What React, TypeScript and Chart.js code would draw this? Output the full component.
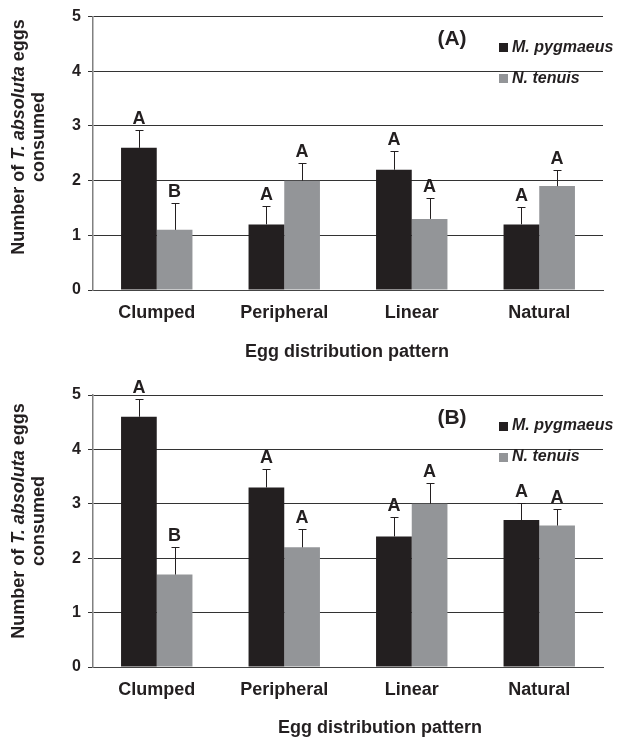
import React, { useEffect, useRef } from "react";
import { Chart, registerables } from "chart.js";

Chart.register(...registerables);

const categories = ["Clumped", "Peripheral", "Linear", "Natural"];
const seriesNames = ["M. pygmaeus", "N. tenuis"];
const yTickValues = [0, 1, 2, 3, 4, 5];

// Panel A
const aPygmaeus = [2.6, 1.2, 2.2, 1.2];
const aPygmaeusErr = [0.33, 0.34, 0.35, 0.32];
const aPygmaeusLetters = ["A", "A", "A", "A"];
const aTenuis = [1.1, 2.0, 1.3, 1.9];
const aTenuisErr = [0.5, 0.33, 0.38, 0.3];
const aTenuisLetters = ["B", "A", "A", "A"];

// Panel B
const bPygmaeus = [4.6, 3.3, 2.4, 2.7];
const bPygmaeusErr = [0.33, 0.34, 0.35, 0.32];
const bPygmaeusLetters = ["A", "A", "A", "A"];
const bTenuis = [1.7, 2.2, 3.0, 2.6];
const bTenuisErr = [0.5, 0.33, 0.38, 0.3];
const bTenuisLetters = ["B", "A", "A", "A"];

const BLACK = "#231f20";
const GREY = "#939598";
const FONT = "'Liberation Sans', Arial, sans-serif";

type PanelProps = {
  label: string;
  pyg: number[];
  pygErr: number[];
  pygLetters: string[];
  ten: number[];
  tenErr: number[];
  tenLetters: string[];
  padTop: number;
  xHeight: number;
  yTitleCenter: number;
  xTitleX: number;
  xTitleY: number;
};

function Panel(p: PanelProps) {
  const ref = useRef<HTMLCanvasElement | null>(null);
  useEffect(() => {
    const canvas = ref.current;
    if (!canvas) return;
    const overlay = {
      id: "overlay",
      afterDatasetsDraw(chart: any) {
        const ctx = chart.ctx;
        const ys = chart.scales.y;
        const area = chart.chartArea;
        ctx.save();
        const errs = [p.pygErr, p.tenErr];
        const vals = [p.pyg, p.ten];
        const lets = [p.pygLetters, p.tenLetters];
        for (let d = 0; d < 2; d++) {
          const meta = chart.getDatasetMeta(d);
          meta.data.forEach((bar: any, j: number) => {
            const x = Math.round(bar.x) + 0.5;
            const yTop = ys.getPixelForValue(vals[d][j]);
            const yErr = Math.round(ys.getPixelForValue(vals[d][j] + errs[d][j])) + 0.5;
            ctx.strokeStyle = BLACK;
            ctx.lineWidth = 1;
            ctx.beginPath();
            ctx.moveTo(x, yTop);
            ctx.lineTo(x, yErr);
            ctx.moveTo(x - 4, yErr);
            ctx.lineTo(x + 4, yErr);
            ctx.stroke();
            ctx.fillStyle = BLACK;
            ctx.font = `bold 18px ${FONT}`;
            ctx.textAlign = "center";
            ctx.textBaseline = "alphabetic";
            ctx.fillText(lets[d][j], bar.x, yErr - 7);
          });
        }
        // panel label
        ctx.font = `bold 21px ${FONT}`;
        ctx.textAlign = "center";
        ctx.textBaseline = "middle";
        ctx.fillStyle = BLACK;
        ctx.fillText(p.label, 452, area.top + 23);
        // legend
        const rows = [
          { name: seriesNames[0], color: BLACK, y: area.top + 31 },
          { name: seriesNames[1], color: GREY, y: area.top + 62 },
        ];
        rows.forEach((r) => {
          ctx.fillStyle = r.color;
          ctx.fillRect(499, Math.round(r.y - 4.5), 9, 9);
          ctx.fillStyle = BLACK;
          ctx.font = `italic bold 16px ${FONT}`;
          ctx.textAlign = "left";
          ctx.textBaseline = "middle";
          ctx.fillText(r.name, 512, r.y);
        });
        // x axis title
        ctx.font = `bold 18px ${FONT}`;
        ctx.textAlign = "center";
        ctx.textBaseline = "middle";
        ctx.fillStyle = BLACK;
        ctx.fillText("Egg distribution pattern", p.xTitleX, p.xTitleY);
        // y axis title (rotated, mixed italic)
        ctx.translate(19, p.yTitleCenter);
        ctx.rotate(-Math.PI / 2);
        const segs = [
          { t: "Number of ", f: `bold 18px ${FONT}` },
          { t: "T. absoluta", f: `italic bold 18px ${FONT}` },
          { t: " eggs", f: `bold 18px ${FONT}` },
        ];
        let total = 0;
        segs.forEach((s) => {
          ctx.font = s.f;
          total += ctx.measureText(s.t).width;
        });
        let cx = -total / 2;
        ctx.textAlign = "left";
        segs.forEach((s) => {
          ctx.font = s.f;
          ctx.fillText(s.t, cx, 0);
          cx += ctx.measureText(s.t).width;
        });
        ctx.font = `bold 18px ${FONT}`;
        ctx.textAlign = "center";
        ctx.fillText("consumed", 0, 20);
        ctx.restore();
      },
    };
    const chart = new Chart(canvas, {
      type: "bar",
      data: {
        labels: categories,
        datasets: [
          { label: seriesNames[0], data: p.pyg, backgroundColor: BLACK },
          { label: seriesNames[1], data: p.ten, backgroundColor: GREY },
        ],
      },
      options: {
        responsive: false,
        animation: false,
        devicePixelRatio: 1,
        layout: { padding: { top: p.padTop, right: 16, left: 0, bottom: 0 } },
        plugins: { legend: { display: false }, tooltip: { enabled: false } },
        datasets: { bar: { categoryPercentage: 0.56, barPercentage: 1.0 } },
        scales: {
          x: {
            grid: { display: false },
            border: { display: true, color: "#444", width: 1 },
            ticks: {
              font: { family: FONT, size: 18, weight: "bold" },
              color: BLACK,
              padding: 4,
              maxRotation: 0,
            },
            afterFit: (s: any) => {
              s.height = p.xHeight;
            },
          },
          y: {
            min: 0,
            max: 5,
            afterBuildTicks: (s: any) => {
              s.ticks = yTickValues.map((v) => ({ value: v }));
            },
            grid: { color: "#333", lineWidth: 1, tickLength: 5, drawTicks: true },
            border: { display: true, color: "#808080", width: 1.5 },
            ticks: {
              font: { family: FONT, size: 16, weight: "bold" },
              color: BLACK,
              padding: 7,
            },
            afterFit: (s: any) => {
              s.width = 93;
            },
          },
        },
      },
      plugins: [overlay],
    } as any);
    return () => chart.destroy();
  }, []);
  return <canvas ref={ref} width={619} height={370} style={{ display: "block", width: 619, height: 370 }} />;
}

export default function App() {
  return (
    <div style={{ position: "absolute", left: 0, top: 0, width: 619, height: 740, background: "#fff" }}>
      <Panel
        label="(A)"
        pyg={aPygmaeus}
        pygErr={aPygmaeusErr}
        pygLetters={aPygmaeusLetters}
        ten={aTenuis}
        tenErr={aTenuisErr}
        tenLetters={aTenuisLetters}
        padTop={16}
        xHeight={80}
        yTitleCenter={137}
        xTitleX={347}
        xTitleY={352}
      />
      <Panel
        label="(B)"
        pyg={bPygmaeus}
        pygErr={bPygmaeusErr}
        pygLetters={bPygmaeusLetters}
        ten={bTenuis}
        tenErr={bTenuisErr}
        tenLetters={bTenuisLetters}
        padTop={25}
        xHeight={73}
        yTitleCenter={151}
        xTitleX={380}
        xTitleY={358}
      />
    </div>
  );
}
